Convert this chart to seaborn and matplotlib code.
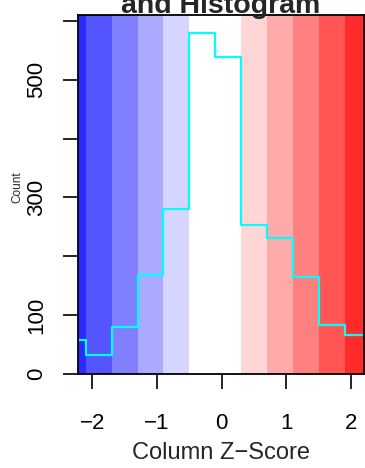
import numpy as np
import pandas as pd
import seaborn as sns
import matplotlib
matplotlib.use("Agg")
import matplotlib.pyplot as plt

bin_edges = [-2.5, -2.1, -1.7, -1.3, -0.9, -0.5, -0.1, 0.3, 0.7, 1.1, 1.5, 1.9, 2.3]
bin_counts = [57, 32, 80, 168, 280, 580, 539, 253, 231, 165, 84, 66]

# colour of each band in the key (blue - white - red)
band_colors = ['#2B2BFF', '#5555FF', '#8080FF', '#AAAAFF', '#D5D5FF', '#FFFFFF',
               '#FFFFFF', '#FFD5D5', '#FFAAAA', '#FF8080', '#FF5555', '#FF2B2B']

x_ticks = [-2, -1, 0, 1, 2]
y_ticks = [0, 100, 200, 300, 400, 500, 600]
y_labels = ['0', '100', '', '300', '', '500', '']

sns.set_style("white")
plt.rcParams['font.family'] = ['Liberation Sans', 'DejaVu Sans']

df = pd.DataFrame({
    'z': [(a + b) / 2 for a, b in zip(bin_edges[:-1], bin_edges[1:])],
    'n': bin_counts,
})

fig = plt.figure(figsize=(3.65, 4.68), dpi=100)
ax = fig.add_axes([78 / 365, 1 - 374 / 468, 286 / 365, 359 / 468])

# colour key bands
for lo, hi, c in zip(bin_edges[:-1], bin_edges[1:], band_colors):
    ax.axvspan(lo, hi, color=c, lw=0, zorder=0)

# histogram outline
sns.histplot(data=df, x='z', weights='n', bins=bin_edges, element='step',
             fill=False, color='cyan', linewidth=1.6, ax=ax)

ax.set_xlim(-2.22, 2.2)
ax.set_ylim(0, 610)
ax.set_xticks(x_ticks)
ax.set_xticklabels(['\u22122', '\u22121', '0', '1', '2'])
ax.set_yticks(y_ticks)
ax.set_yticklabels(y_labels, rotation=90, va='center')
ax.tick_params(axis='both', direction='out', length=11, width=1.2,
               colors='black', labelsize=16, left=True, bottom=True)
ax.tick_params(axis='x', pad=17)
ax.tick_params(axis='y', pad=11)
for s in ax.spines.values():
    s.set_color('black')
    s.set_linewidth(1.3)

ax.set_xlabel('Column Z\u2212Score', fontsize=17, labelpad=6)
ax.set_ylabel('Count', fontsize=8.5)
ax.yaxis.set_label_coords(-0.19, 0.52)

fig.text(221 / 365, 1 - 13 / 468, 'Color Key\nand Histogram', ha='center',
         va='baseline', fontsize=20.5, fontweight='bold')

fig.savefig('out.png', dpi=100)
